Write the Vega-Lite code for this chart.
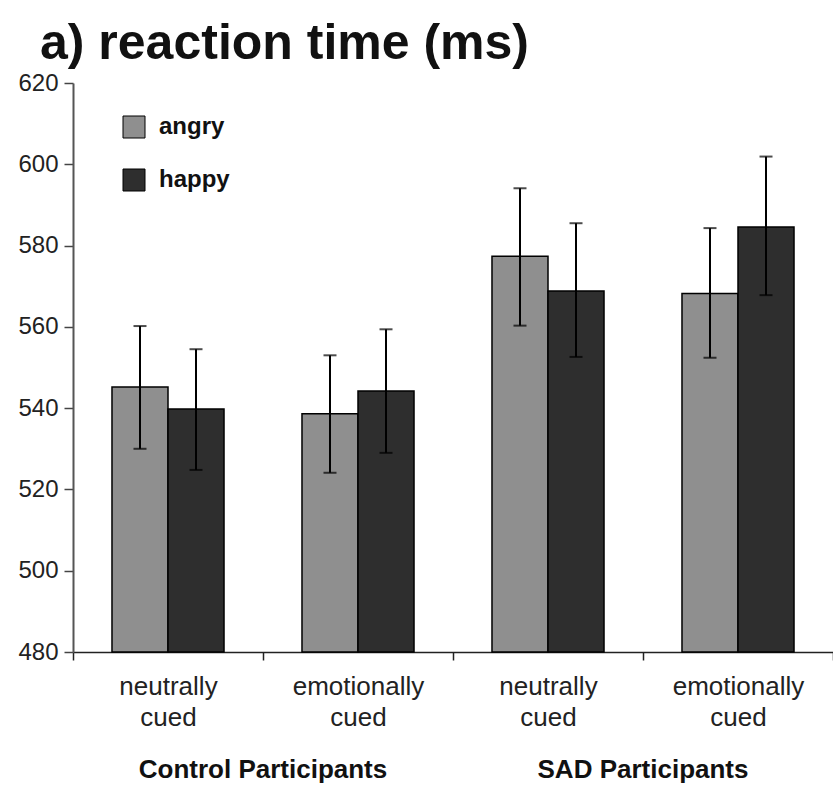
{
  "$schema": "https://vega.github.io/schema/vega-lite/v6.json",
  "autosize": "none",
  "width": 760,
  "height": 569,
  "padding": {"left": 73, "top": 83, "right": 0, "bottom": 139},
  "background": "white",
  "title": {
    "text": "a) reaction time (ms)",
    "anchor": "start",
    "frame": "group",
    "dx": -33,
    "dy": 58,
    "offset": 20,
    "baseline": "alphabetic",
    "font": "Liberation Sans",
    "fontSize": 50,
    "fontWeight": "bold",
    "color": "#111111"
  },
  "config": {
    "view": {"stroke": null},
    "font": "Liberation Sans",
    "axis": {"grid": false}
  },
  "datasets": {
    "rt": [
      {"cond": "Control: neutrally cued", "emotion": "angry", "rt": 545.2, "lo": 530.0, "hi": 560.2},
      {"cond": "Control: neutrally cued", "emotion": "happy", "rt": 539.8, "lo": 524.8, "hi": 554.5},
      {"cond": "Control: emotionally cued", "emotion": "angry", "rt": 538.6, "lo": 524.1, "hi": 553.0},
      {"cond": "Control: emotionally cued", "emotion": "happy", "rt": 544.2, "lo": 529.0, "hi": 559.4},
      {"cond": "SAD: neutrally cued", "emotion": "angry", "rt": 577.4, "lo": 560.3, "hi": 594.1},
      {"cond": "SAD: neutrally cued", "emotion": "happy", "rt": 568.8, "lo": 552.6, "hi": 585.5},
      {"cond": "SAD: emotionally cued", "emotion": "angry", "rt": 568.2, "lo": 552.4, "hi": 584.3},
      {"cond": "SAD: emotionally cued", "emotion": "happy", "rt": 584.6, "lo": 567.8, "hi": 601.9}
    ],
    "groups": [
      {"group": "Control Participants", "pos": 449.0},
      {"group": "SAD Participants", "pos": 449.0}
    ]
  },
  "layer": [
    {
      "data": {"name": "rt"},
      "encoding": {
        "x": {
          "field": "cond",
          "type": "nominal",
          "sort": null,
          "scale": {"paddingInner": 0, "paddingOuter": 0},
          "axis": {
            "title": null,
            "labelAngle": 0,
            "labelExpr": "split(substring(datum.label, indexof(datum.label, ':') + 2), ' ')",
            "labelFontSize": 26,
            "labelLineHeight": 31,
            "labelColor": "#222222",
            "labelPadding": 13,
            "labelLimit": 300,
            "tickBand": "extent",
            "tickSize": 8,
            "tickColor": "#222222",
            "tickWidth": 1.5,
            "domainColor": "#222222",
            "domainWidth": 1.5
          }
        },
        "xOffset": {
          "field": "emotion",
          "type": "nominal",
          "sort": ["angry", "happy"],
          "scale": {"paddingInner": 0, "paddingOuter": 0.696}
        }
      },
      "layer": [
        {
          "mark": {"type": "bar", "stroke": "black", "strokeWidth": 1.5},
          "encoding": {
            "y": {
              "field": "rt",
              "type": "quantitative",
              "scale": {"domain": [480, 620], "zero": false, "nice": false},
              "axis": {
                "title": null,
                "values": [480, 500, 520, 540, 560, 580, 600, 620],
                "labelFontSize": 24,
                "labelColor": "#222222",
                "labelPadding": 6,
                "tickSize": 9,
                "tickColor": "#444444",
                "tickWidth": 1.5,
                "domainColor": "#555555",
                "domainWidth": 2
              }
            },
            "y2": {"datum": 480},
            "color": {
              "field": "emotion",
              "type": "nominal",
              "sort": ["angry", "happy"],
              "scale": {"domain": ["angry", "happy"], "range": ["#8f8f8f", "#2e2e2e"]},
              "legend": {
                "title": null,
                "orient": "none",
                "legendX": 49,
                "legendY": 32,
                "symbolType": "square",
                "symbolSize": 484,
                "symbolStrokeColor": "black",
                "symbolStrokeWidth": 1,
                "symbolOpacity": 1,
                "labelFontSize": 24,
                "labelFontWeight": "bold",
                "labelColor": "#111111",
                "labelOffset": 13,
                "rowPadding": 27
              }
            }
          }
        },
        {
          "mark": {"type": "rule", "color": "black", "strokeWidth": 2},
          "encoding": {
            "y": {"field": "lo", "type": "quantitative"},
            "y2": {"field": "hi"}
          }
        },
        {
          "mark": {"type": "tick", "color": "black", "thickness": 2, "size": 13},
          "encoding": {
            "y": {"field": "hi", "type": "quantitative"}
          }
        },
        {
          "mark": {"type": "tick", "color": "black", "thickness": 2, "size": 13},
          "encoding": {
            "y": {"field": "lo", "type": "quantitative"}
          }
        }
      ]
    },
    {
      "data": {"name": "groups"},
      "mark": {
        "type": "text",
        "fontSize": 26,
        "fontWeight": "bold",
        "color": "#111111",
        "baseline": "alphabetic",
        "align": "center"
      },
      "encoding": {
        "x": {"field": "group", "type": "nominal", "axis": null, "scale": {"paddingInner": 0, "paddingOuter": 0}},
        "y": {"field": "pos", "type": "quantitative"},
        "text": {"field": "group"}
      }
    }
  ],
  "resolve": {"scale": {"x": "independent"}}
}
